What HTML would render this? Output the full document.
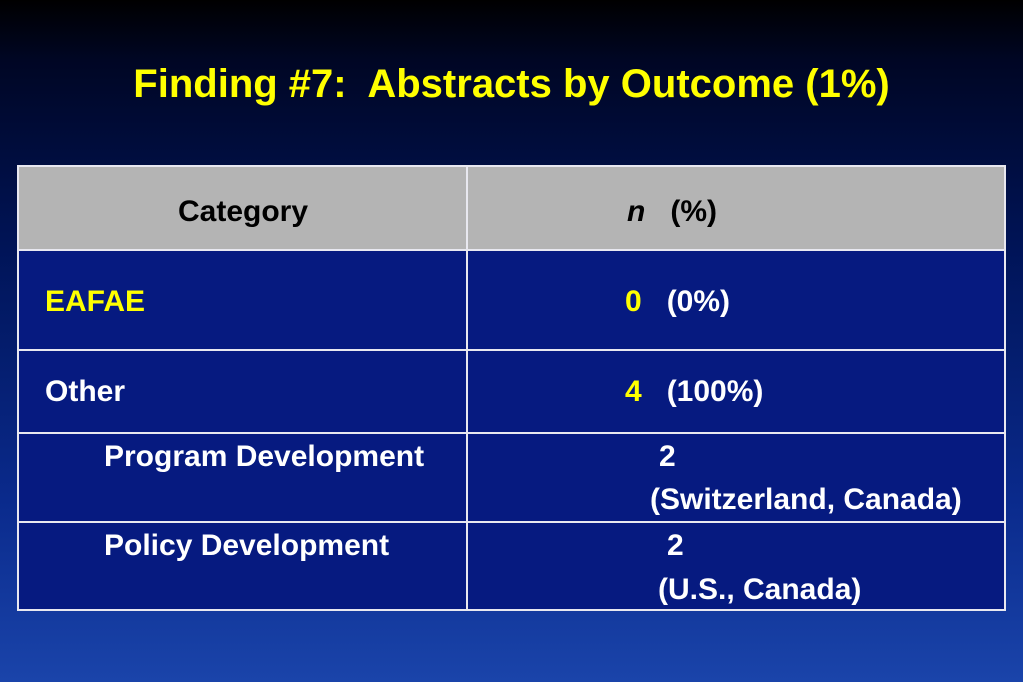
<!DOCTYPE html>
<html><head><meta charset="utf-8"><style>
body{margin:0;width:1023px;height:682px;overflow:hidden;font-family:"Liberation Sans",sans-serif;background:linear-gradient(to bottom,#000000 0px,#000624 60px,#001458 250px,#0a2a8c 500px,#1a44aa 682px);position:relative}
.t{position:absolute;font-weight:bold;font-size:30px;color:#fff;white-space:nowrap;line-height:1}
.y{color:#ffff00}
.cell{position:absolute;box-sizing:border-box}
</style></head><body>
<div class="t y" style="left:0;width:1023px;text-align:center;top:64px;font-size:40px">Finding #7:&nbsp; Abstracts by Outcome (1%)</div>
<div style="position:absolute;left:17px;top:165px;width:989px;height:446px;background:#061a80;border:2px solid #e8e8f0;box-sizing:border-box">
 <div class="cell" style="left:0;top:0;width:985px;height:84px;background:#b4b4b4;border-bottom:2px solid #e8e8f0"></div>
 <div class="cell" style="left:447px;top:0;width:2px;height:442px;background:#e8e8f0"></div>
 <div class="cell" style="left:0;top:182px;width:985px;height:2px;background:#e8e8f0"></div>
 <div class="cell" style="left:0;top:265px;width:985px;height:2px;background:#e8e8f0"></div>
 <div class="cell" style="left:0;top:354px;width:985px;height:2px;background:#e8e8f0"></div>
</div>
<div class="t" style="left:178px;top:197px;color:#000">Category</div>
<div class="t" style="left:627px;top:197px;color:#000"><i>n</i>&nbsp;&nbsp; (%)</div>
<div class="t y" style="left:45px;top:287px">EAFAE</div>
<div class="t" style="left:625px;top:287px"><span class="y">0</span>&nbsp;&nbsp; (0%)</div>
<div class="t" style="left:45px;top:377px">Other</div>
<div class="t" style="left:625px;top:377px"><span class="y">4</span>&nbsp;&nbsp; (100%)</div>
<div class="t" style="left:104px;top:442px">Program Development</div>
<div class="t" style="left:659px;top:442px">2</div>
<div class="t" style="left:650px;top:485px">(Switzerland, Canada)</div>
<div class="t" style="left:104px;top:531px">Policy Development</div>
<div class="t" style="left:667px;top:531px">2</div>
<div class="t" style="left:658px;top:575px">(U.S., Canada)</div>
</body></html>
